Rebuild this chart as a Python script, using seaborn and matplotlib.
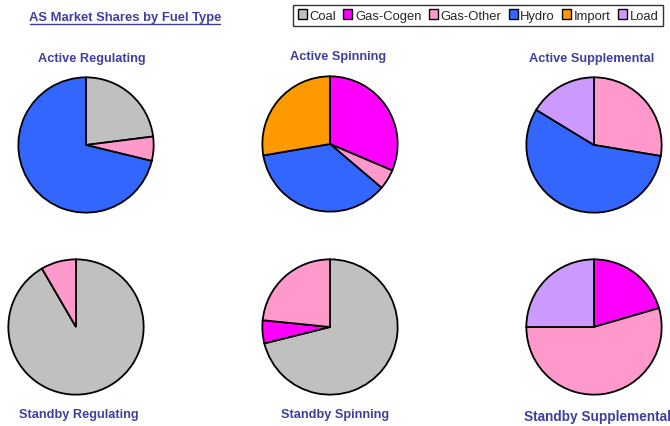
import matplotlib
matplotlib.use("Agg")
import matplotlib.pyplot as plt
import seaborn as sns
from matplotlib.patches import Patch
from matplotlib.lines import Line2D

sns.set_style("white")
plt.rcParams['font.family'] = ['Liberation Sans', 'DejaVu Sans']

fuels = ["Coal", "Gas-Cogen", "Gas-Other", "Hydro", "Import", "Load"]
fuel_colors = ["#C0C0C0", "#FF00FF", "#FF99CC", "#3366FF", "#FF9900", "#CC99FF"]

active_regulating = [23.0, 0.0, 5.8, 71.2, 0.0, 0.0]
active_spinning = [0.0, 31.4, 4.8, 36.1, 27.7, 0.0]
active_supplemental = [0.0, 0.0, 27.6, 56.1, 0.0, 16.3]
standby_regulating = [91.6, 0.0, 8.4, 0.0, 0.0, 0.0]
standby_spinning = [71.1, 5.5, 23.4, 0.0, 0.0, 0.0]
standby_supplemental = [0.0, 20.5, 54.5, 0.0, 0.0, 25.0]

panel_titles = ["Active Regulating", "Active Spinning", "Active Supplemental",
                "Standby Regulating", "Standby Spinning", "Standby Supplemental"]
panel_values = [active_regulating, active_spinning, active_supplemental,
                standby_regulating, standby_spinning, standby_supplemental]

W, H = 670, 427
fig = plt.figure(figsize=(W / 100, H / 100), dpi=100)
fig.patch.set_facecolor("white")

title_color = "#3F3F9F"
R = 69
centers = [(86, 146), (330, 145), (594, 146), (76, 328), (330, 328), (594, 328)]
title_pos = [(92, 59), (338, 57), (592, 59), (79, 415), (335, 415), (598, 417)]
title_sizes = [9.2, 9.2, 9.2, 9.2, 9.2, 9.8]

for (cx, cy), (tx, ty), fs, name, vals in zip(centers, title_pos, title_sizes,
                                              panel_titles, panel_values):
    ax = fig.add_axes([(cx - R) / W, (H - cy - R) / H, 2 * R / W, 2 * R / H])
    v = [x for x in vals if x > 0]
    c = [col for x, col in zip(vals, fuel_colors) if x > 0]
    ax.pie(v, colors=c, startangle=90, counterclock=False, radius=1.0,
           wedgeprops=dict(edgecolor="black", linewidth=1.3))
    ax.set_xlim(-1.02, 1.02)
    ax.set_ylim(-1.02, 1.02)
    ax.set_aspect("equal")
    ax.axis("off")
    fig.text(tx / W, 1 - ty / H, name, ha="center", va="center",
             fontsize=fs, fontweight="bold", color=title_color)

# main title with underline
fig.text(125 / W, 1 - 18 / H, "AS Market Shares by Fuel Type", ha="center", va="center",
         fontsize=9.4, fontweight="bold", color=title_color)
fig.add_artist(Line2D([30 / W, 220 / W], [1 - 25 / H, 1 - 25 / H],
                      color=title_color, linewidth=1.0))

handles = [Patch(facecolor=col, edgecolor="black", linewidth=1.0, label=f)
           for f, col in zip(fuels, fuel_colors)]
leg = fig.legend(handles=handles, loc="center", bbox_to_anchor=(478 / W, 1 - 16.5 / H),
                 ncol=6, fontsize=9.4, frameon=True, fancybox=False,
                 handlelength=0.7, handleheight=0.7, handletextpad=0.2,
                 columnspacing=0.55, borderpad=0.35, borderaxespad=0)
leg.get_frame().set_edgecolor("black")
leg.get_frame().set_linewidth(1.0)

fig.savefig("out.png", dpi=100, facecolor="white")
